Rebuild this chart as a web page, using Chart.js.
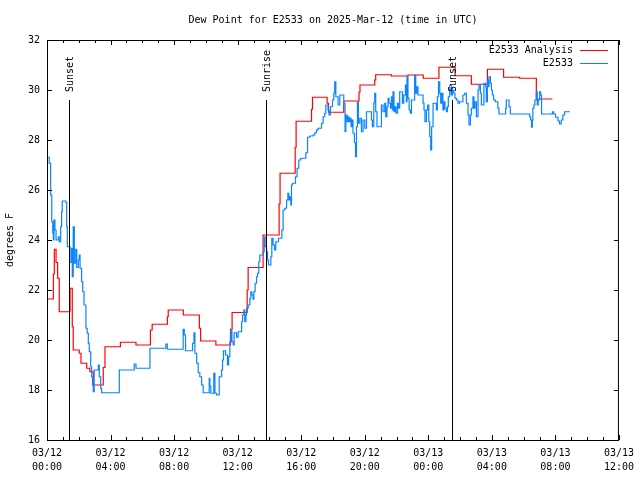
<!DOCTYPE html>
<html>
<head>
<meta charset="utf-8">
<script src="https://cdn.jsdelivr.net/npm/chart.js@4.4.0/dist/chart.umd.min.js"></script>
<style>
  html, body { margin: 0; background: #fff; }
  #wrap { width: 640px; height: 480px; }
</style>
</head>
<body>
<div id="wrap"><canvas id="dewChart"></canvas></div>
<script>
// hours since 03/12 00:00 UTC, dew point in F
const analysisHours = [0, 0.40, 0.46, 0.57, 0.67, 0.77, 1.45, 1.59, 1.65, 2.03,
  2.14, 2.50, 2.70, 2.91, 3.54, 3.65, 4.62, 5.60, 6.51, 6.62,
  7.58, 7.63, 8.58, 9.59, 9.67, 10.63, 11.55, 11.65, 12.60, 12.66,
  13.60, 14.61, 14.67, 15.62, 15.68, 16.65, 16.71, 17.63, 17.72, 18.68,
  19.64, 19.70, 20.63, 20.69, 21.68, 22.72, 23.68, 24.67, 25.69, 26.71,
  27.72, 28.74, 29.75, 30.80, 31.81];
const analysisTemps = [21.64, 22.64, 23.63, 23.1, 22.47, 21.13, 22.07, 20.53, 19.6, 19.47,
  19.07, 18.87, 18.73, 18.2, 18.9, 19.73, 19.91, 19.8, 20.4, 20.63,
  20.93, 21.2, 21.0, 20.47, 19.96, 19.8, 20.43, 21.1, 22.0, 22.9,
  24.2, 25.44, 26.67, 27.71, 28.75, 29.23, 29.71, 29.47, 29.11, 29.56,
  29.91, 30.2, 30.4, 30.61, 30.56, 30.6, 30.47, 30.91, 30.57, 30.23,
  30.83, 30.51, 30.47, 29.64, 29.64];

const stationHours = [0, 0.14, 0.23, 0.30, 0.36, 0.40, 0.44, 0.50, 0.57, 0.71,
  0.77, 0.86, 0.92, 0.96, 1.19, 1.24, 1.28, 1.45, 1.55, 1.59,
  1.65, 1.72, 1.81, 1.87, 1.97, 2.03, 2.08, 2.18, 2.25, 2.33,
  2.45, 2.53, 2.60, 2.66, 2.75, 2.81, 2.87, 2.91, 2.97, 3.23,
  3.29, 3.38, 3.44, 4.55, 5.49, 5.60, 6.48, 7.48, 7.57, 8.57,
  8.64, 8.72, 9.16, 9.25, 9.31, 9.42, 9.52, 9.62, 9.73, 9.83,
  10.21, 10.25, 10.31, 10.50, 10.57, 10.67, 10.84, 10.99, 11.05, 11.11,
  11.24, 11.36, 11.43, 11.51, 11.57, 11.64, 11.72, 11.78, 11.93, 12.03,
  12.25, 12.31, 12.39, 12.45, 12.52, 12.56, 12.66, 12.77, 12.83, 12.89,
  12.97, 13.02, 13.10, 13.19, 13.25, 13.33, 13.40, 13.60, 13.67, 13.73,
  13.82, 13.88, 13.94, 14.09, 14.15, 14.23, 14.32, 14.40, 14.57, 14.78,
  14.86, 14.97, 15.08, 15.16, 15.22, 15.28, 15.35, 15.39, 15.45, 15.64,
  15.74, 15.85, 15.97, 16.29, 16.40, 16.54, 16.75, 16.86, 16.96, 17.06,
  17.28, 17.38, 17.48, 17.55, 17.69, 17.75, 17.84, 17.97, 18.05, 18.11,
  18.18, 18.32, 18.43, 18.68, 18.76, 18.81, 18.89, 18.95, 19.01, 19.08,
  19.14, 19.20, 19.26, 19.35, 19.42, 19.48, 19.54, 19.60, 19.69, 19.79,
  19.89, 20.00, 20.11, 20.42, 20.48, 20.57, 20.63, 20.69, 20.77, 21.05,
  21.15, 21.26, 21.32, 21.40, 21.47, 21.53, 21.62, 21.68, 21.74, 21.78,
  21.84, 21.91, 21.97, 22.06, 22.12, 22.20, 22.37, 22.45, 22.56, 22.62,
  22.66, 22.72, 22.79, 22.87, 22.94, 23.14, 23.21, 23.29, 23.35, 23.67,
  23.73, 23.79, 23.88, 23.96, 24.03, 24.09, 24.15, 24.21, 24.30, 24.51,
  24.57, 24.64, 24.72, 24.78, 24.84, 24.92, 24.99, 25.05, 25.14, 25.20,
  25.26, 25.35, 25.45, 25.52, 25.60, 25.68, 25.77, 25.87, 25.97, 26.18,
  26.29, 26.40, 26.50, 26.56, 26.65, 26.71, 26.81, 26.87, 26.94, 27.03,
  27.13, 27.19, 27.28, 27.34, 27.50, 27.61, 27.65, 27.72, 27.78, 27.82,
  27.91, 27.97, 28.03, 28.11, 28.22, 28.38, 28.45, 28.87, 28.91, 29.08,
  29.16, 30.38, 30.44, 30.50, 30.55, 30.58, 30.65, 30.71, 30.80, 30.86,
  30.92, 31.01, 31.07, 31.13, 31.81, 31.89, 32.01, 32.16, 32.26, 32.37,
  32.47, 32.58, 32.85];
const stationTemps = [27.31, 27.07, 25.8, 24.73, 24.28, 24.0, 24.8, 24.4, 24.0, 24.13,
  23.93, 24.53, 25.13, 25.56, 25.5, 24.53, 23.73, 23.1, 23.67, 22.53,
  24.53, 23.07, 23.63, 22.9, 23.2, 23.4, 22.87, 22.33, 21.93, 21.4,
  20.47, 20.27, 19.87, 19.53, 18.93, 18.53, 18.2, 17.93, 18.8, 19.0,
  18.53, 18.07, 17.89, 18.8, 19.04, 18.87, 19.67, 19.84, 19.63, 20.43,
  20.2, 19.57, 19.87, 20.29, 19.47, 19.07, 18.69, 18.53, 18.2, 17.89,
  18.47, 18.16, 17.87, 18.67, 17.87, 17.8, 18.53, 18.8, 19.2, 19.57,
  19.4, 19.0, 19.33, 19.93, 20.37, 19.93, 19.8, 20.29, 20.11, 20.33,
  20.73, 21.0, 21.2, 20.73, 21.0, 21.27, 21.4, 21.67, 21.93, 21.8,
  21.63, 21.93, 22.27, 22.53, 22.67, 23.13, 23.4, 23.53, 24.13, 23.73,
  23.53, 23.2, 23.0, 23.33, 24.07, 23.8, 23.6, 23.93, 24.07, 24.4,
  25.2, 25.27, 25.6, 25.87, 25.6, 25.73, 25.4, 26.2, 26.27, 26.53,
  26.87, 27.2, 27.27, 27.49, 28.11, 28.16, 28.2, 28.29, 28.4, 28.47,
  28.67, 28.93, 29.07, 29.4, 29.2, 29.0, 29.33, 29.6, 29.87, 30.33,
  29.73, 29.4, 29.8, 29.47, 28.33, 29.0, 28.73, 28.93, 28.73, 28.87,
  28.53, 28.8, 28.27, 27.89, 27.33, 28.53, 29.53, 28.67, 28.87, 28.33,
  28.8, 28.47, 29.13, 28.8, 28.53, 29.49, 29.87, 29.13, 28.53, 29.4,
  29.13, 29.47, 28.93, 29.33, 29.67, 29.47, 29.27, 29.73, 29.2, 29.93,
  29.13, 29.33, 29.07, 29.47, 29.27, 29.93, 29.47, 29.8, 30.2, 29.53,
  30.53, 29.67, 29.2, 29.07, 29.6, 30.6, 29.87, 30.13, 29.8, 29.47,
  29.2, 28.73, 29.2, 29.4, 28.73, 28.13, 27.6, 28.53, 29.47, 29.2,
  29.73, 30.33, 29.87, 29.47, 29.87, 29.2, 29.53, 29.27, 29.13, 29.33,
  29.73, 30.2, 29.8, 30.0, 29.87, 29.67, 29.6, 29.47, 29.53, 29.8,
  29.87, 29.47, 29.0, 28.6, 29.0, 29.27, 29.73, 29.27, 29.53, 28.93,
  30.0, 30.2, 29.87, 29.4, 30.27, 30.13, 29.53, 30.4, 30.13, 30.53,
  30.27, 30.0, 29.8, 29.6, 29.53, 29.27, 29.04, 29.27, 29.6, 29.33,
  29.04, 28.93, 28.8, 28.51, 28.8, 29.27, 29.4, 29.6, 29.93, 29.4,
  29.6, 29.93, 29.8, 29.04, 29.13, 29.04, 28.91, 28.76, 28.64, 28.8,
  29.0, 29.13, 29.16];

const eventHours = [1.40, 13.77, 25.49];
const eventNames = ['Sunset', 'Sunrise', 'Sunset'];

const xTickLabels = [['03/12', '00:00'], ['03/12', '04:00'], ['03/12', '08:00'], ['03/12', '12:00'],
  ['03/12', '16:00'], ['03/12', '20:00'], ['03/13', '00:00'], ['03/13', '04:00'],
  ['03/13', '08:00'], ['03/13', '12:00']];

const seriesNames = ['E2533 Analysis', 'E2533'];
const seriesColors = ['#ff0000', '#0a84ff'];
const titleText = 'Dew Point for E2533 on 2025-Mar-12 (time in UTC)';
const FONT_FAMILY = '"DejaVu Sans Mono", monospace';

function toPoints(xs, ys) {
  return xs.map((x, i) => ({ x: x, y: ys[i] }));
}

// gnuplot look: frame, inward ticks on all sides, sun lines, title, legend
const decorations = {
  id: 'decorations',
  afterDatasetsDraw(chart) {
    const { ctx, chartArea: a, scales } = chart;
    const xs = scales.x, ys = scales.y;
    ctx.save();
    ctx.strokeStyle = '#000';
    ctx.lineWidth = 1;

    ctx.strokeRect(a.left + 0.5, a.top + 0.5, a.right - a.left - 1, a.bottom - a.top);

    ctx.beginPath();
    xs.ticks.forEach(t => {
      const px = Math.round(xs.getPixelForValue(t.value)) + 0.5;
      const len = t.value % 4 === 0 ? 5 : 3;
      ctx.moveTo(px, a.bottom); ctx.lineTo(px, a.bottom - len);
      ctx.moveTo(px, a.top); ctx.lineTo(px, a.top + len);
    });
    ys.ticks.forEach(t => {
      const py = Math.round(ys.getPixelForValue(t.value)) + 0.5;
      ctx.moveTo(a.left, py); ctx.lineTo(a.left + 5, py);
      ctx.moveTo(a.right, py); ctx.lineTo(a.right - 5, py);
    });
    ctx.stroke();

    // sunrise / sunset markers
    const lineTop = a.bottom - 0.85 * (a.bottom - a.top);
    ctx.font = '10px ' + FONT_FAMILY;
    ctx.fillStyle = '#000';
    eventHours.forEach((h, i) => {
      const px = Math.round(xs.getPixelForValue(h)) + 0.5;
      ctx.beginPath();
      ctx.moveTo(px, lineTop);
      ctx.lineTo(px, a.bottom);
      ctx.stroke();
      ctx.save();
      ctx.translate(px + 1, lineTop - 8);
      ctx.rotate(-Math.PI / 2);
      ctx.textAlign = 'left';
      ctx.textBaseline = 'middle';
      ctx.fillText(eventNames[i], 0, 0);
      ctx.restore();
    });

    // title
    ctx.textAlign = 'center';
    ctx.textBaseline = 'middle';
    ctx.fillText(titleText, (a.left + a.right) / 2, a.top - 20);

    // legend
    ctx.textAlign = 'right';
    seriesNames.forEach((name, i) => {
      const y = a.top + 10 + i * 13;
      ctx.fillStyle = '#000';
      ctx.fillText(name, a.right - 46, y);
      ctx.strokeStyle = seriesColors[i];
      ctx.beginPath();
      ctx.moveTo(a.right - 39, y + 0.5);
      ctx.lineTo(a.right - 11, y + 0.5);
      ctx.stroke();
    });
    ctx.restore();
  }
};

const ctx = document.getElementById('dewChart').getContext('2d');
const chart = new Chart(ctx, {
  type: 'line',
  data: {
    datasets: [
      { label: seriesNames[0], data: toPoints(analysisHours, analysisTemps), borderColor: seriesColors[0],
        borderWidth: 1.2, pointRadius: 0, stepped: true, order: 1 },
      { label: seriesNames[1], data: toPoints(stationHours, stationTemps), borderColor: seriesColors[1],
        borderWidth: 1.2, pointRadius: 0, stepped: true, order: 0 }
    ]
  },
  options: {
    responsive: true,
    maintainAspectRatio: false,
    animation: false,
    devicePixelRatio: 1,
    layout: { padding: { top: 40, right: 20, left: 0, bottom: 0 } },
    plugins: { legend: { display: false }, tooltip: { enabled: false }, title: { display: false } },
    scales: {
      x: {
        type: 'linear', min: 0, max: 36,
        grid: { display: false, drawTicks: false },
        border: { display: false },
        ticks: {
          stepSize: 1, autoSkip: false, maxRotation: 0, minRotation: 0, padding: 6,
          color: '#000', font: { family: FONT_FAMILY, size: 10, lineHeight: 1.4 },
          callback: v => (v % 4 === 0 ? xTickLabels[v / 4] : '')
        },
        afterFit: s => { s.height = 40; }
      },
      y: {
        min: 16, max: 32,
        grid: { display: false, drawTicks: false },
        border: { display: false },
        ticks: { stepSize: 2, padding: 7, color: '#000', font: { family: FONT_FAMILY, size: 10 } },
        title: { display: true, text: 'degrees F', color: '#000', padding: 4,
          font: { family: FONT_FAMILY, size: 10 } },
        afterFit: s => { s.width = 47; }
      }
    }
  },
  plugins: [decorations]
});
</script>
</body>
</html>
